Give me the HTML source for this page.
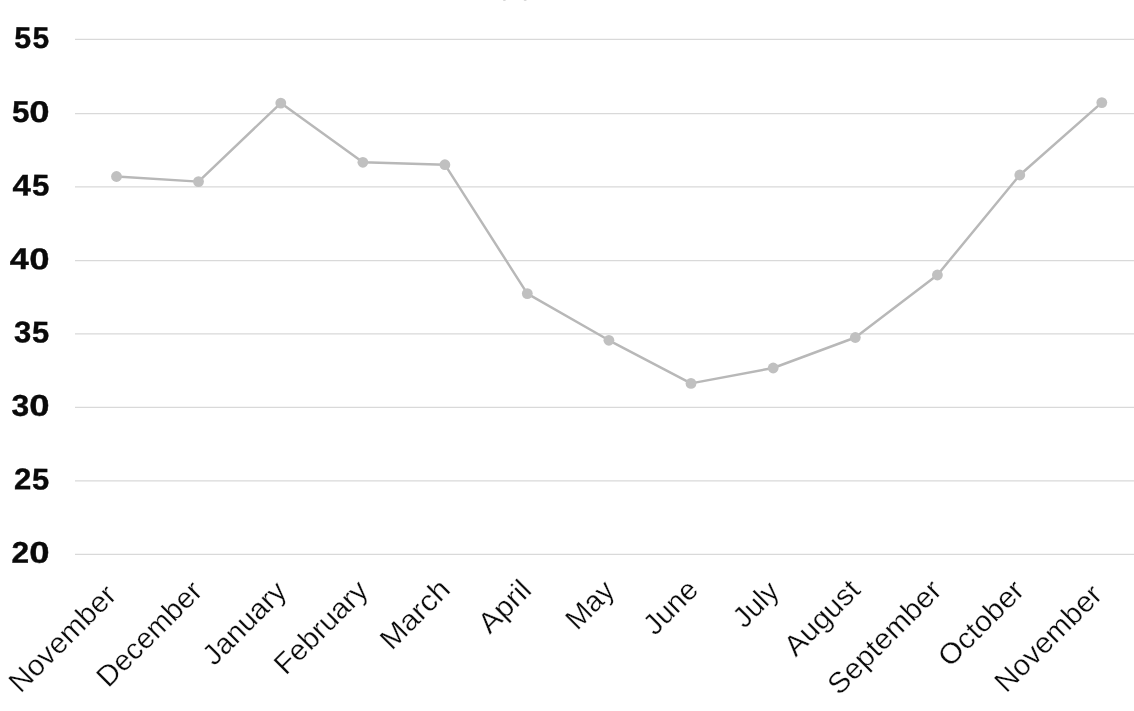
<!DOCTYPE html>
<html lang="en"><head><meta charset="utf-8"><title>Chart</title>
<style>
html,body{margin:0;padding:0;background:#fff;}
body{width:1134px;height:711px;overflow:hidden;position:relative;}
svg{position:absolute;left:0;top:0;display:block;}
.yl{font-family:"Liberation Sans",Arial,sans-serif;font-weight:700;font-size:30.0px;fill:#0a0a0a;stroke:#0a0a0a;stroke-width:0.4px;}
.xl{font-family:"Liberation Sans",Arial,sans-serif;font-weight:400;font-size:29px;fill:#0b0b0b;stroke:#fff;stroke-width:0.3px;text-anchor:middle;}
.g{stroke:#d9d9d9;stroke-width:1.25;}
</style></head><body>
<svg width="1134" height="711" viewBox="0 0 1134 711">
<ellipse cx="504.4" cy="0" rx="1.5" ry="0.9" fill="#d6d6d6"/><ellipse cx="525.2" cy="0" rx="1.5" ry="0.9" fill="#d6d6d6"/>
<line class="g" x1="75" y1="39.45" x2="1134" y2="39.45"/>
<line class="g" x1="75" y1="113.55" x2="1134" y2="113.55"/>
<line class="g" x1="75" y1="186.95" x2="1134" y2="186.95"/>
<line class="g" x1="75" y1="260.65" x2="1134" y2="260.65"/>
<line class="g" x1="75" y1="333.85" x2="1134" y2="333.85"/>
<line class="g" x1="75" y1="407.3" x2="1134" y2="407.3"/>
<line class="g" x1="75" y1="480.9" x2="1134" y2="480.9"/>
<line class="g" x1="75" y1="554.3" x2="1134" y2="554.3"/>
<text class="yl" transform="translate(0,47.85) rotate(0.3)"><tspan x="14.22" textLength="16.87" lengthAdjust="spacingAndGlyphs">5</tspan><tspan x="32.42" textLength="16.66" lengthAdjust="spacingAndGlyphs">5</tspan></text>
<text class="yl" transform="translate(0,121.95) rotate(0.3)"><tspan x="11.92" textLength="17.48" lengthAdjust="spacingAndGlyphs">5</tspan><tspan x="29.31" textLength="20.26" lengthAdjust="spacingAndGlyphs">0</tspan></text>
<text class="yl" transform="translate(0,195.35) rotate(0.3)"><tspan x="12.52" textLength="18.34" lengthAdjust="spacingAndGlyphs">4</tspan><tspan x="32.07" textLength="17.31" lengthAdjust="spacingAndGlyphs">5</tspan></text>
<text class="yl" transform="translate(0,269.05) rotate(0.3)"><tspan x="9.71" textLength="19.01" lengthAdjust="spacingAndGlyphs">4</tspan><tspan x="29.31" textLength="20.26" lengthAdjust="spacingAndGlyphs">0</tspan></text>
<text class="yl" transform="translate(0,342.25) rotate(0.3)"><tspan x="14.14" textLength="17.22" lengthAdjust="spacingAndGlyphs">3</tspan><tspan x="32.07" textLength="17.13" lengthAdjust="spacingAndGlyphs">5</tspan></text>
<text class="yl" transform="translate(0,415.7) rotate(0.3)"><tspan x="11.49" textLength="17.65" lengthAdjust="spacingAndGlyphs">3</tspan><tspan x="29.31" textLength="20.26" lengthAdjust="spacingAndGlyphs">0</tspan></text>
<text class="yl" transform="translate(0,489.3) rotate(0.3)"><tspan x="14.07" textLength="17.28" lengthAdjust="spacingAndGlyphs">2</tspan><tspan x="32.07" textLength="17.13" lengthAdjust="spacingAndGlyphs">5</tspan></text>
<text class="yl" transform="translate(0,562.7) rotate(0.3)"><tspan x="11.57" textLength="17.59" lengthAdjust="spacingAndGlyphs">2</tspan><tspan x="29.31" textLength="20.26" lengthAdjust="spacingAndGlyphs">0</tspan></text>
<polyline fill="none" stroke="#b8b8b8" stroke-width="2.45" stroke-linejoin="round" points="116.5,176.5 198.5,181.6 280.8,103.1 362.9,162.3 444.9,164.7 527.3,293.6 608.9,340.3 691.0,383.4 773.2,368.0 855.3,337.5 937.4,275.0 1019.8,175.0 1101.8,102.6"/>
<circle cx="116.5" cy="176.5" r="5.4" fill="#c0c0c0"/>
<circle cx="198.5" cy="181.6" r="5.4" fill="#c0c0c0"/>
<circle cx="280.8" cy="103.1" r="5.4" fill="#c0c0c0"/>
<circle cx="362.9" cy="162.3" r="5.4" fill="#c0c0c0"/>
<circle cx="444.9" cy="164.7" r="5.4" fill="#c0c0c0"/>
<circle cx="527.3" cy="293.6" r="5.4" fill="#c0c0c0"/>
<circle cx="608.9" cy="340.3" r="5.4" fill="#c0c0c0"/>
<circle cx="691.0" cy="383.4" r="5.4" fill="#c0c0c0"/>
<circle cx="773.2" cy="368.0" r="5.4" fill="#c0c0c0"/>
<circle cx="855.3" cy="337.5" r="5.4" fill="#c0c0c0"/>
<circle cx="937.4" cy="275.0" r="5.4" fill="#c0c0c0"/>
<circle cx="1019.8" cy="175.0" r="5.4" fill="#c0c0c0"/>
<circle cx="1101.8" cy="102.6" r="5.4" fill="#c0c0c0"/>
<text class="xl" transform="translate(69.28,645.30) rotate(-45)" textLength="137.71" lengthAdjust="spacingAndGlyphs">November</text>
<text class="xl" transform="translate(156.10,640.67) rotate(-45)" textLength="135.16" lengthAdjust="spacingAndGlyphs">December</text>
<text class="xl" transform="translate(251.18,629.92) rotate(-45)" textLength="104.37" lengthAdjust="spacingAndGlyphs">January</text>
<text class="xl" transform="translate(327.72,634.10) rotate(-45)" textLength="118.56" lengthAdjust="spacingAndGlyphs">February</text>
<text class="xl" transform="translate(421.75,621.15) rotate(-45)" textLength="85.10" lengthAdjust="spacingAndGlyphs">March</text>
<text class="xl" transform="translate(511.48,613.40) rotate(-45)" textLength="61.30" lengthAdjust="spacingAndGlyphs">April</text>
<text class="xl" transform="translate(596.60,611.75) rotate(-45)" textLength="55.08" lengthAdjust="spacingAndGlyphs">May</text>
<text class="xl" transform="translate(677.42,614.00) rotate(-45)" textLength="63.56" lengthAdjust="spacingAndGlyphs">June</text>
<text class="xl" transform="translate(762.62,611.10) rotate(-45)" textLength="51.33" lengthAdjust="spacingAndGlyphs">July</text>
<text class="xl" transform="translate(828.75,624.65) rotate(-45)" textLength="93.55" lengthAdjust="spacingAndGlyphs">August</text>
<text class="xl" transform="translate(891.35,644.05) rotate(-45)" textLength="147.37" lengthAdjust="spacingAndGlyphs">September</text>
<text class="xl" transform="translate(987.88,630.10) rotate(-45)" textLength="107.73" lengthAdjust="spacingAndGlyphs">October</text>
<text class="xl" transform="translate(1055.00,645.07) rotate(-45)" textLength="137.71" lengthAdjust="spacingAndGlyphs">November</text>
</svg></body></html>
